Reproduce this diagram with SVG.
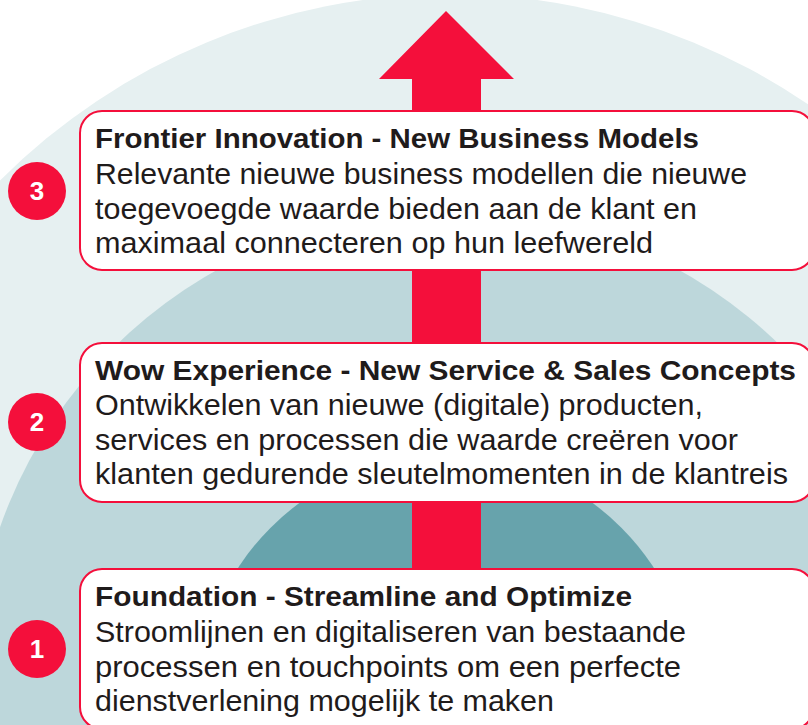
<svg xmlns="http://www.w3.org/2000/svg" width="808" height="725" viewBox="0 0 808 725">
  <style>
    .box { fill: #ffffff; stroke: #F40F3B; stroke-width: 2; }
    .badge { fill: #F40F3B; }
    .num { font-family: "Liberation Sans", Arial, sans-serif; font-weight: bold; font-size: 26px; fill: #ffffff; text-anchor: middle; }
    .title { font-family: "Liberation Sans", Arial, sans-serif; font-weight: bold; font-size: 28px; fill: #1f1b1b; }
    .body { font-family: "Liberation Sans", Arial, sans-serif; font-size: 30px; fill: #1f1b1b; }
  </style>
  <rect x="0" y="0" width="808" height="725" fill="#ffffff"/>
  <g id="background">
    <circle cx="450" cy="630" r="636" fill="#E6F0F1"/>
    <circle cx="448" cy="685" r="475" fill="#BDD7DB"/>
    <circle cx="446" cy="703" r="248" fill="#67A3AC"/>
  </g>
  <g id="connectors">
    <polygon points="446,11 514,79 481,79 481,740 412,740 412,79 379,79" fill="#F40F3B"/>
  </g>
  <g id="node3">
    <rect class="box" x="80" y="111" width="734" height="159" rx="22"/>
    <text class="title" x="95" y="148" textLength="604" lengthAdjust="spacingAndGlyphs">Frontier Innovation - New Business Models</text>
    <text class="body" x="95" y="184" textLength="652" lengthAdjust="spacingAndGlyphs">Relevante nieuwe business modellen die nieuwe</text>
    <text class="body" x="95" y="219" textLength="602" lengthAdjust="spacingAndGlyphs">toegevoegde waarde bieden aan de klant en</text>
    <text class="body" x="95" y="253" textLength="558" lengthAdjust="spacingAndGlyphs">maximaal connecteren op hun leefwereld</text>
    <circle class="badge" cx="37" cy="191" r="29"/>
    <text class="num" x="37" y="200">3</text>
  </g>
  <g id="node2">
    <rect class="box" x="80" y="343" width="734" height="159" rx="22"/>
    <text class="title" x="95" y="380" textLength="701" lengthAdjust="spacingAndGlyphs">Wow Experience - New Service &amp; Sales Concepts</text>
    <text class="body" x="95" y="415" textLength="608" lengthAdjust="spacingAndGlyphs">Ontwikkelen van nieuwe (digitale) producten,</text>
    <text class="body" x="95" y="450" textLength="643" lengthAdjust="spacingAndGlyphs">services en processen die waarde creëren voor</text>
    <text class="body" x="95" y="484" textLength="693" lengthAdjust="spacingAndGlyphs">klanten gedurende sleutelmomenten in de klantreis</text>
    <circle class="badge" cx="37" cy="422" r="29"/>
    <text class="num" x="37" y="431">2</text>
  </g>
  <g id="node1">
    <rect class="box" x="80" y="569" width="734" height="160" rx="22"/>
    <text class="title" x="95" y="606" textLength="537" lengthAdjust="spacingAndGlyphs">Foundation - Streamline and Optimize</text>
    <text class="body" x="95" y="642" textLength="591" lengthAdjust="spacingAndGlyphs">Stroomlijnen en digitaliseren van bestaande</text>
    <text class="body" x="95" y="677" textLength="586" lengthAdjust="spacingAndGlyphs">processen en touchpoints om een perfecte</text>
    <text class="body" x="95" y="711" textLength="459" lengthAdjust="spacingAndGlyphs">dienstverlening mogelijk te maken</text>
    <circle class="badge" cx="37" cy="649" r="29"/>
    <text class="num" x="37" y="658">1</text>
  </g>
</svg>
